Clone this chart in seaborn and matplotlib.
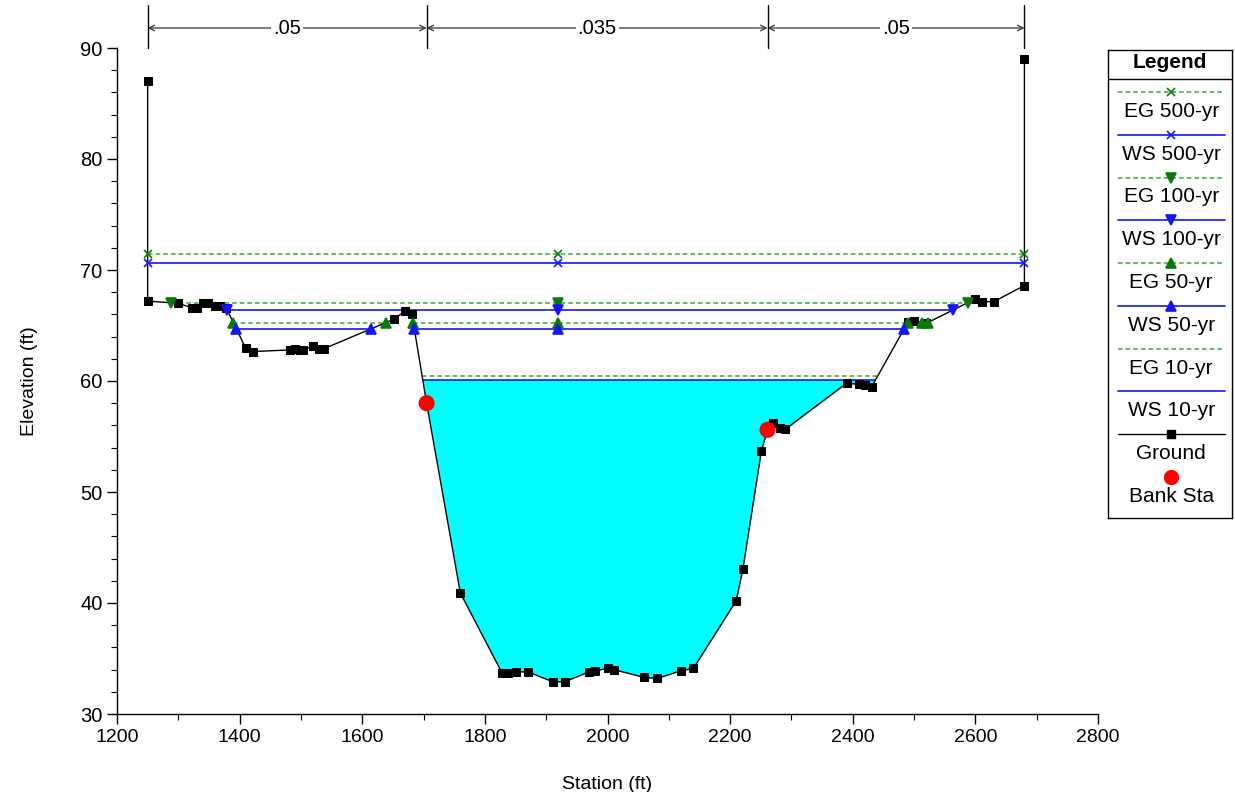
import numpy as np
import pandas as pd
import matplotlib
matplotlib.use("Agg")
import matplotlib.pyplot as plt
import matplotlib.transforms as mtransforms
import seaborn as sns

# Ground profile (station ft, elevation ft)
ground_sta = [1250, 1250, 1300, 1322, 1330, 1341, 1349, 1360, 1368, 1378,
              1410, 1421, 1482, 1490, 1498, 1504, 1520, 1530, 1537,
              1651, 1670, 1681, 1705, 1760, 1828, 1838, 1851, 1870,
              1911, 1930, 1970, 1980, 2000, 2010, 2060, 2081, 2120, 2140,
              2210, 2221, 2251, 2261, 2270, 2281, 2290,
              2390, 2410, 2420, 2431, 2490, 2500, 2520, 2600, 2610, 2630,
              2680, 2680]
ground_elev = [87.0, 67.2, 67.0, 66.6, 66.6, 67.0, 67.0, 66.8, 66.8, 66.6,
               62.95, 62.65, 62.8, 62.85, 62.8, 62.8, 63.15, 62.9, 62.9,
               65.55, 66.3, 66.0, 58.0, 40.9, 33.7, 33.7, 33.8, 33.8,
               32.9, 32.9, 33.8, 33.9, 34.1, 34.0, 33.3, 33.2, 33.9, 34.1,
               40.2, 43.1, 53.7, 55.6, 56.2, 55.8, 55.65,
               59.8, 59.7, 59.6, 59.5, 65.3, 65.4, 65.2, 67.4, 67.15, 67.15,
               68.6, 89.0]

# Bank stations
bank_sta = [1705, 2261]
bank_elev = [58.0, 55.6]

# Water surface / energy grade elevations per profile
profiles = ["EG 500-yr", "WS 500-yr", "EG 100-yr", "WS 100-yr",
            "EG 50-yr", "WS 50-yr", "EG 10-yr", "WS 10-yr"]
levels = [71.4, 70.6, 67.05, 66.4, 65.27, 64.68, 60.45, 60.1]
markers = ["x", "x", "v", "v", "^", "^", None, None]

# Manning's n breaks
n_breaks = [1250, 1705, 2261, 2680]
n_values = [".05", ".035", ".05"]
mid_marker_sta = 1920

BLUE = "#1515f5"
style = {
    "EG": dict(color="#3aa53a", ls=(0, (3, 2)), lw=1.1, mc="#0a7a0a"),
    "WS": dict(color=BLUE, ls="-", lw=1.2, mc=BLUE),
}


def wet_segments(level):
    """stations where the ground is below a given level"""
    x = np.asarray(ground_sta, float)
    y = np.asarray(ground_elev, float)
    segs = []
    start = None
    for i in range(len(x) - 1):
        x0, x1, y0, y1 = x[i], x[i + 1], y[i], y[i + 1]
        if (y0 >= level > y1) or (y0 < level <= y1):
            xc = x0 + (level - y0) * (x1 - x0) / (y1 - y0)
            if y1 < level:
                start = xc
            elif start is not None:
                segs.append((start, xc))
                start = None
    return segs


sns.set_style("ticks")
plt.rcParams["font.family"] = ["Liberation Sans", "DejaVu Sans"]
plt.rcParams.update({"text.color": "black", "axes.labelcolor": "black",
                     "xtick.color": "black", "ytick.color": "black"})

fig = plt.figure(figsize=(12.35, 7.92), dpi=100)
ax = fig.add_axes([117 / 1235, 1 - 714 / 792, (1098 - 117) / 1235, (714 - 48) / 792])

df = pd.DataFrame({"Station": ground_sta, "Elevation": ground_elev})

# water fill for the 10-yr profile
gx = np.asarray(ground_sta, float)
gy = np.asarray(ground_elev, float)
ws10 = levels[profiles.index("WS 10-yr")]
ax.fill_between(gx, gy, ws10, where=gy < ws10, interpolate=True,
                color="#00ffff", lw=0, zorder=1)

# profile lines
marker_pts = []
for name, lev, mk in zip(profiles, levels, markers):
    st = style[name[:2]]
    for x0, x1 in wet_segments(lev):
        ax.plot([x0, x1], [lev, lev], color=st["color"], ls=st["ls"],
                lw=st["lw"], zorder=2)
        if mk is not None:
            pts = [x0, x1]
            if x0 < mid_marker_sta < x1:
                pts.append(mid_marker_sta)
            marker_pts.append((pts, lev, mk, st["mc"]))

# ground
sns.lineplot(data=df, x="Station", y="Elevation", sort=False, estimator=None,
             color="black", lw=1.0, marker="s", markersize=6,
             markeredgecolor="black", markerfacecolor="black", ax=ax, zorder=3)

for pts, lev, mk, mc in marker_pts:
    ax.plot(pts, [lev] * len(pts), ls="none", marker=mk, color=mc,
            markersize=7 if mk != "x" else 6, mew=1.2, zorder=4)

sns.scatterplot(x=bank_sta, y=bank_elev, color="red", s=135, edgecolor="none",
                ax=ax, zorder=5)

ax.set_xlim(1200, 2800)
ax.set_ylim(30, 90)
ax.set_xticks(np.arange(1200, 2801, 200))
ax.set_xticks(np.arange(1200, 2801, 100), minor=True)
ax.set_yticks(np.arange(30, 91, 10))
ax.set_yticks(np.arange(30, 91, 2), minor=True)
ax.tick_params(which="major", length=7, width=1, direction="out", labelsize=14)
ax.tick_params(axis="y", labelsize=14.5)
ax.tick_params(which="minor", length=4, width=0.8, direction="out")
ax.set_xlabel("Station (ft)", fontsize=14, labelpad=22)
ax.set_ylabel("Elevation (ft)", fontsize=14, labelpad=30)
sns.despine(ax=ax)
for s in ["left", "bottom"]:
    ax.spines[s].set_color("black")
    ax.spines[s].set_linewidth(1)

# Manning's n annotation above the plot
trans = mtransforms.blended_transform_factory(ax.transData, ax.transAxes)
for b in n_breaks:
    ax.plot([b, b], [1.0, 1.065], transform=trans, color="black", lw=1,
            clip_on=False)
for (a, b), lab in zip(zip(n_breaks[:-1], n_breaks[1:]), n_values):
    ax.annotate("", xy=(a, 1.03), xytext=(b, 1.03), xycoords=trans,
                textcoords=trans,
                arrowprops=dict(arrowstyle="<->", color="#333333", lw=0.9,
                                shrinkA=0, shrinkB=0))
    ax.text((a + b) / 2, 1.03, lab, transform=trans, ha="center", va="center",
            fontsize=14.5, bbox=dict(fc="white", ec="none", pad=1.5))

# Legend panel
lax = fig.add_axes([1108 / 1235, 1 - 518 / 792, (1232 - 1108) / 1235, (518 - 50) / 792])
lax.set_xlim(0, 1)
lax.set_ylim(518, 50)
lax.set_xticks([])
lax.set_yticks([])
for s in lax.spines.values():
    s.set_color("black")
    s.set_linewidth(1)
lax.text(0.5, 63, "Legend", ha="center", va="center", fontsize=15, fontweight="bold")
lax.axhline(79, color="black", lw=1)

entries = profiles + ["Ground", "Bank Sta"]
y0 = 92
for i, name in enumerate(entries):
    yl = y0 + i * 42.75
    if name == "Ground":
        lax.plot([0.08, 0.94], [yl, yl], color="black", lw=1)
        lax.plot([0.51], [yl], marker="s", color="black", markersize=6)
    elif name == "Bank Sta":
        lax.plot([0.51], [yl], marker="o", color="red", markersize=11, mec="none")
    else:
        st = style[name[:2]]
        lax.plot([0.08, 0.94], [yl, yl], color=st["color"], ls=st["ls"], lw=st["lw"])
        mk = markers[profiles.index(name)]
        if mk is not None:
            lax.plot([0.51], [yl], marker=mk, color=st["mc"],
                     markersize=7 if mk != "x" else 6, mew=1.2)
    lax.text(0.51, yl + 19.5, name, ha="center", va="center", fontsize=15)

fig.savefig("out.png", dpi=100)
